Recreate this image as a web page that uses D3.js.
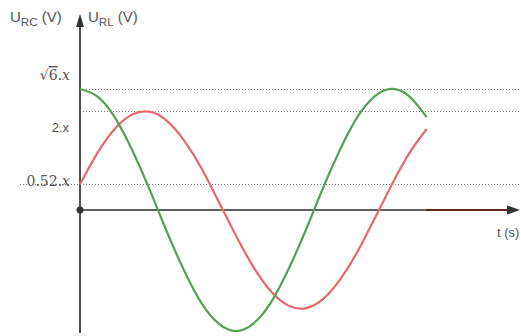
<!DOCTYPE html>
<html><head><meta charset="utf-8">
<script src="https://cdn.jsdelivr.net/npm/d3@7"></script>
<style>body{margin:0;background:#fff}svg{display:block}</style>
</head><body>
<svg id="c" width="521" height="336"></svg>
<script>
// phase angle (degrees of one period)
const phase = [0,20,40,60,80,100,120,140,160,180,200,220,240,260,280,300,320,340,360,380,400];
// U_RC (green) and U_RL (red), in units of x
const uRC = [2.45,2.30,1.88,1.22,0.43,-0.43,-1.22,-1.88,-2.30,-2.45,-2.30,-1.88,-1.22,-0.43,0.43,1.22,1.88,2.30,2.45,2.30,1.88];
const uRL = [0.52,1.15,1.64,1.93,1.99,1.81,1.41,0.85,0.17,-0.52,-1.15,-1.64,-1.93,-1.99,-1.81,-1.41,-0.85,-0.17,0.52,1.15,1.64];
const refValues = [2.449, 2.0, 0.52];
const refLabels = ["√6.x", "2.x", "0.52.x"];

const svg = d3.select("#c");
const x = d3.scaleLinear().domain([0,360]).range([80,392]);
const y = d3.scaleLinear().domain([0,2.449]).range([210,89]);

// reference dotted lines
refValues.forEach((v,i)=>{
  svg.append("line").attr("x1", i===2?20:80).attr("x2",521)
    .attr("y1", Math.round(y(v))+0.5).attr("y2", Math.round(y(v))+0.5)
    .attr("stroke","#7a7a7a").attr("stroke-width",1).attr("stroke-dasharray","1,2");
});

// labels
const labelY = [80, 132, 186];
const t0 = svg.append("text").attr("x",70).attr("y",labelY[0]).attr("text-anchor","end")
  .attr("font-family","DejaVu Serif, serif").attr("font-size",14).attr("fill","#555");
t0.append("tspan").text("√");
t0.append("tspan").text("6").attr("text-decoration","overline");
t0.append("tspan").text(".");
t0.append("tspan").attr("font-style","italic").text("x");
svg.append("text").attr("x",69).attr("y",labelY[1]).attr("text-anchor","end")
  .attr("font-family","Liberation Sans, Arial, sans-serif").attr("font-size",13).attr("fill","#555")
  .text(refLabels[1]);
svg.append("text").attr("x",70).attr("y",labelY[2]).attr("text-anchor","end")
  .attr("font-family","DejaVu Serif, serif").attr("font-size",14).attr("fill","#555")
  .html('0.52.<tspan font-style="italic">x</tspan>');

// axes
svg.append("line").attr("x1",80).attr("x2",80).attr("y1",333).attr("y2",24)
  .attr("stroke","#505050").attr("stroke-width",2);
svg.append("path").attr("d","M80,14 L84,27 L76,27 Z").attr("fill","#333");
svg.append("line").attr("x1",80).attr("x2",426).attr("y1",210).attr("y2",210)
  .attr("stroke","#606060").attr("stroke-width",2);
svg.append("line").attr("x1",426).attr("x2",510).attr("y1",210).attr("y2",210)
  .attr("stroke","#5a2a22").attr("stroke-width",2);
svg.append("path").attr("d","M520,210 L507,205.5 L507,214.5 Z").attr("fill","#333");
svg.append("circle").attr("cx",80).attr("cy",210).attr("r",3.5).attr("fill","#333");

// axis titles
function sub(xx, yy, s) {
  const t = svg.append("text").attr("x",xx).attr("y",yy)
    .attr("font-family","Liberation Sans, Arial, sans-serif").attr("font-size",15).attr("fill","#555");
  t.append("tspan").text("U");
  t.append("tspan").attr("font-size",11.5).attr("dy",4).text(s);
  t.append("tspan").attr("dy",-4).text(" (V)");
}
sub(10, 22, "RC");
sub(88, 22, "RL");
svg.append("text").attr("x",497).attr("y",237)
  .attr("font-family","Liberation Sans, Arial, sans-serif").attr("font-size",13).attr("fill","#555")
  .text("t (s)");

// curves
const line = d3.line().x(d=>x(d[0])).y(d=>y(d[1])).curve(d3.curveNatural);
svg.append("path").datum(phase.map((p,i)=>[p,uRL[i]])).attr("d",line)
  .attr("fill","none").attr("stroke","#e8696b").attr("stroke-width",2.2);
svg.append("path").datum(phase.map((p,i)=>[p,uRC[i]])).attr("d",line)
  .attr("fill","none").attr("stroke","#55a055").attr("stroke-width",2.2);
</script>
</body></html>
